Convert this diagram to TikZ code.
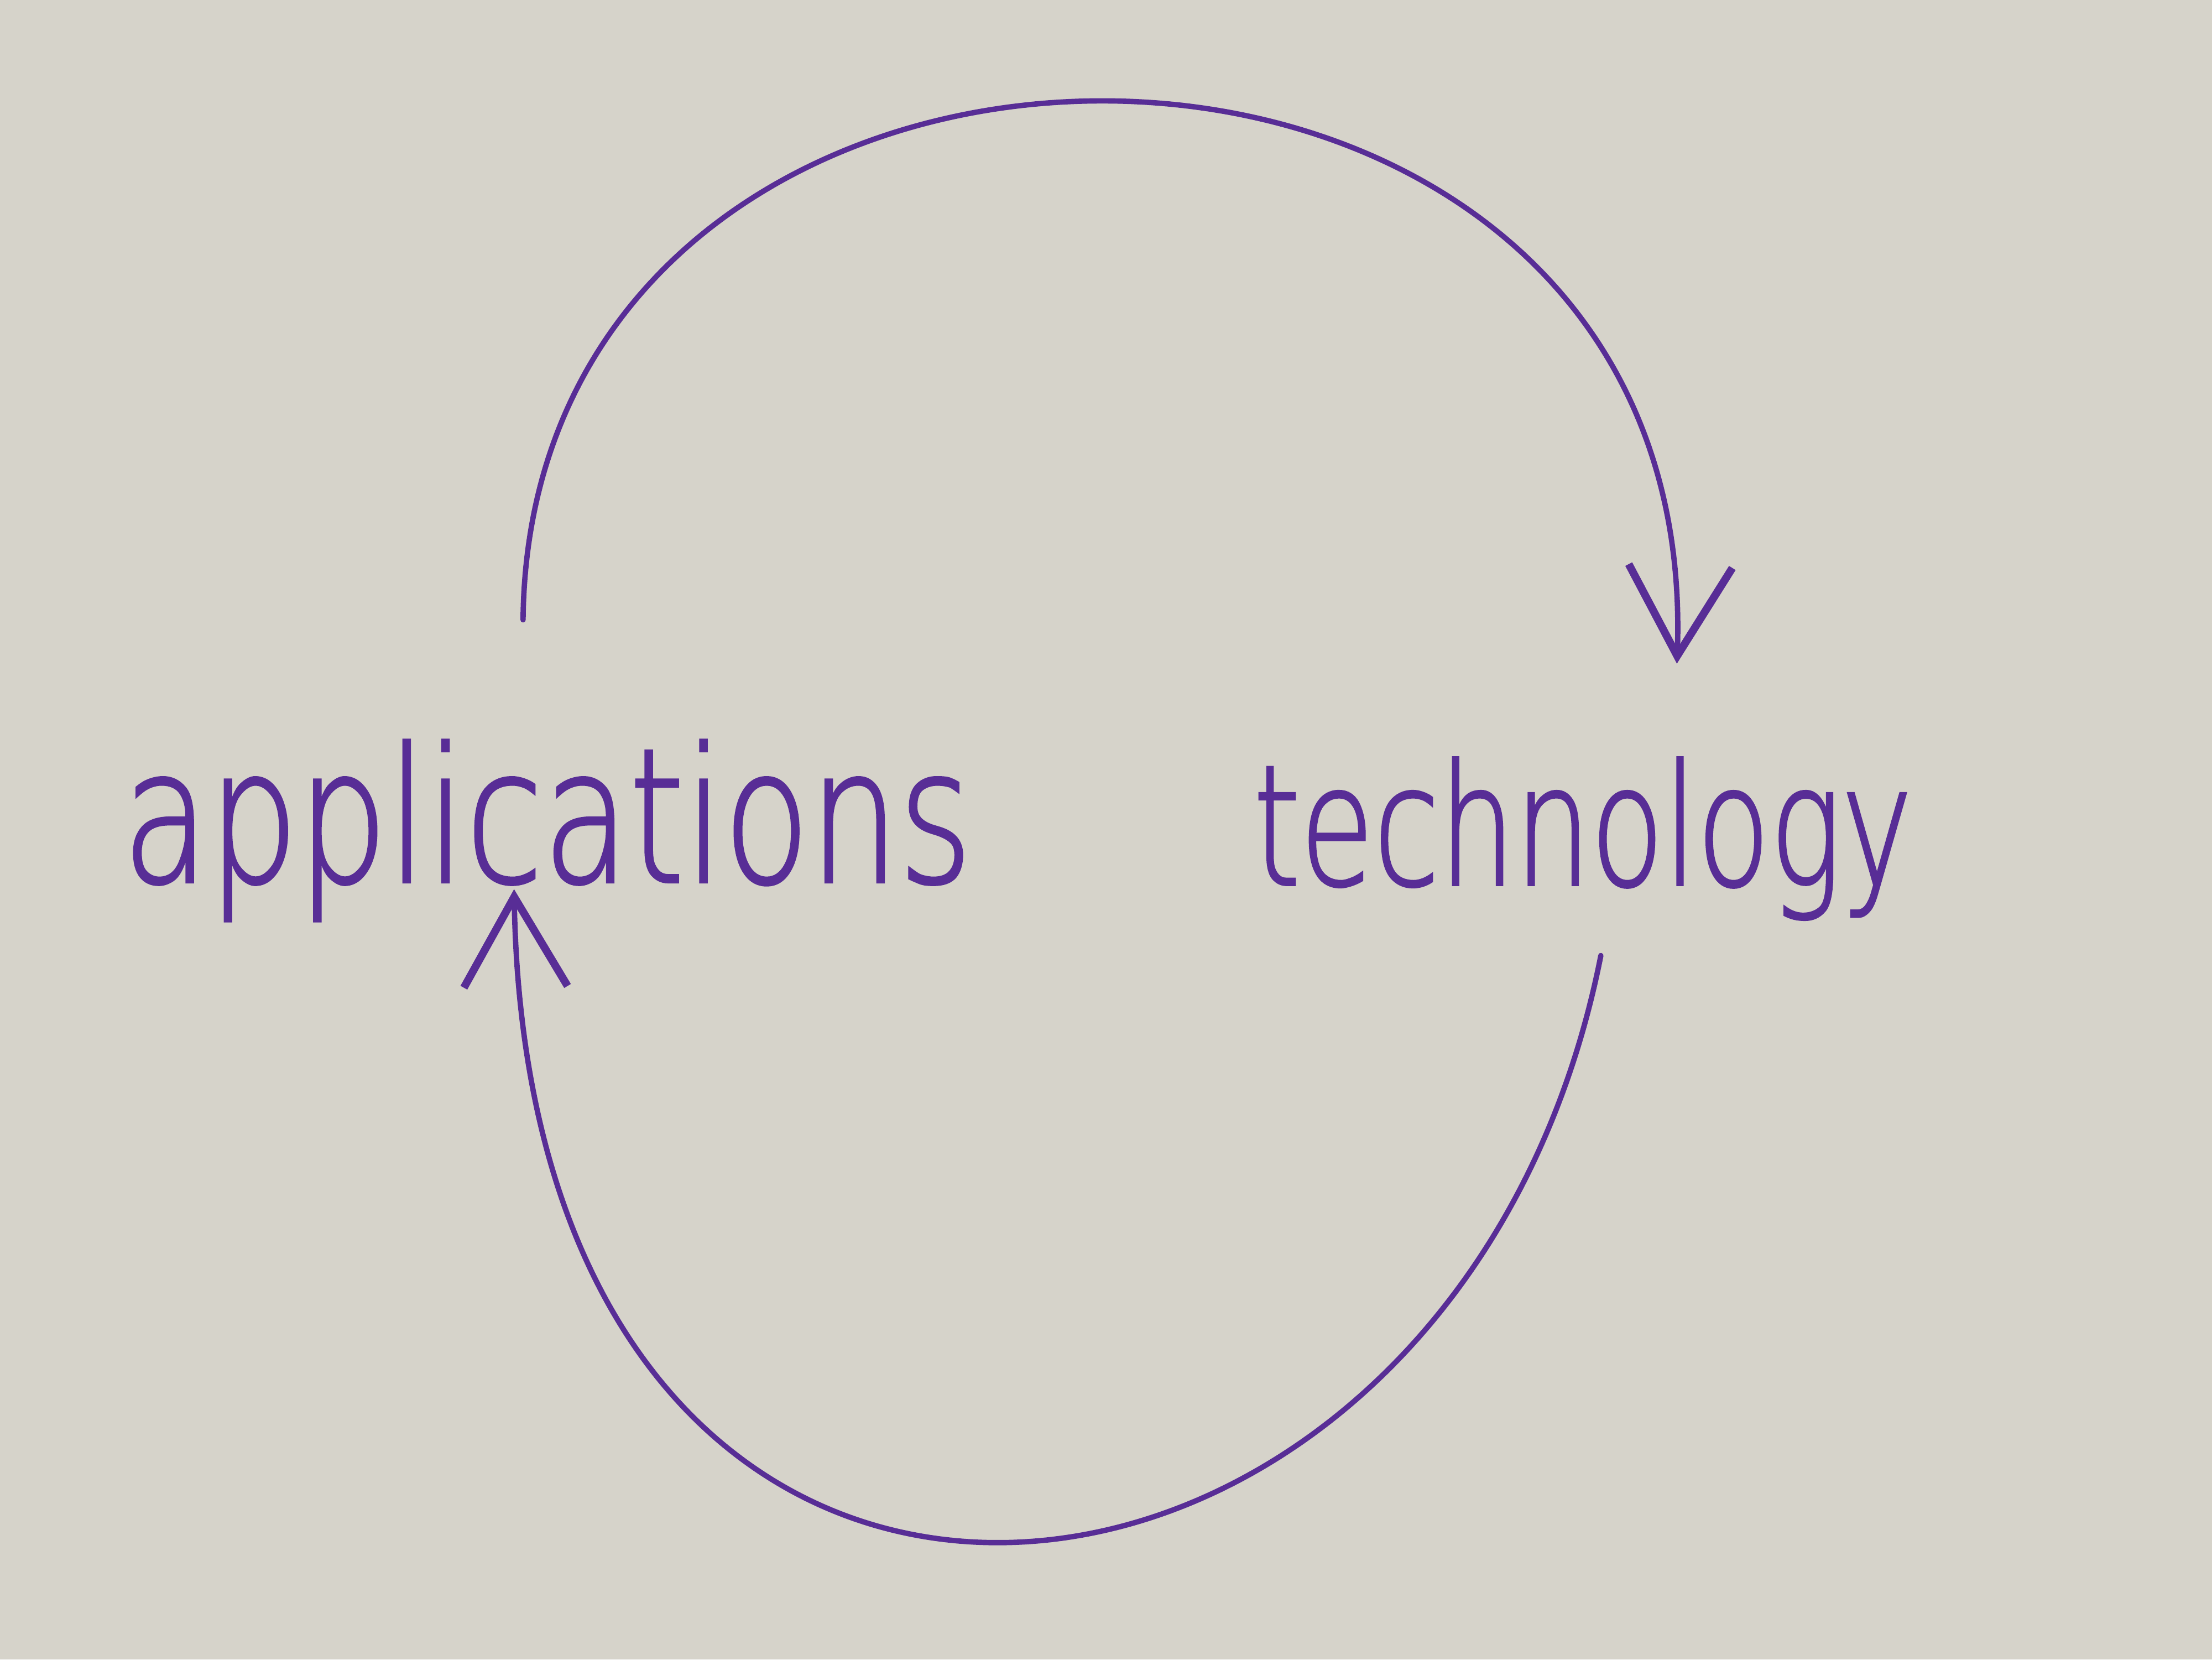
\documentclass[tikz,border=0pt]{standalone}
\usepackage{fontspec}
\newfontfamily\handapp{DejaVu Sans ExtraLight}[FakeStretch=0.75,FakeBold=1.2]
\newfontfamily\handtech{DejaVu Sans ExtraLight}[FakeStretch=0.71,FakeBold=1.2]
\usetikzlibrary{arrows.meta}
\definecolor{ink}{RGB}{88,45,150}
\definecolor{board}{RGB}{214,211,202}

\begin{document}
\begin{tikzpicture}
    \tikzstyle{word}=[text=ink,inner sep=0pt,anchor=base west]
    \tikzstyle{loop}=[draw=ink,line width=1.1pt,line cap=round,-{Straight Barb[length=6.5mm,width=7.5mm,line width=1.6pt]}]
    \fill[board] (0,0) rectangle (16,12);
    \useasboundingbox (0,0) rectangle (16,12);
    \node[word,font=\handapp\fontsize{38.6}{42}\selectfont] (app) at (0.88,5.62) {applications};
    \node[word,font=\handtech\fontsize{34.6}{38}\selectfont] (tech) at (9.06,5.6) {technology};
    % applications -> technology, over the top
    \draw[loop] ([shift={(-0.175,0.86)}]app.north) .. controls +(0.05,5.05) and +(0.2,5.35) .. ([shift={(0.68,0.67)}]tech.north);
    % technology -> applications, round the bottom
    \draw[loop] ([shift={(0.13,-0.25)}]tech.south) .. controls +(-1.06,-5.36) and +(0.11,-6.57) .. ([shift={(-0.24,-0.05)}]app.base);
\end{tikzpicture}
\end{document}
